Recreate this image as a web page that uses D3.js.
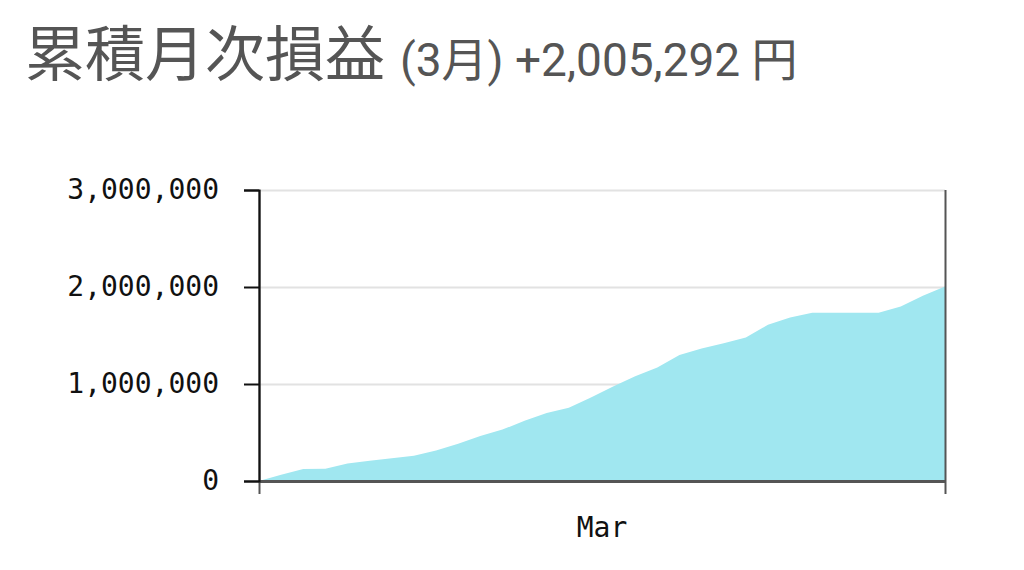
<html>
<script src='https://d3js.org/d3.v7.min.js'></script>
<style>
  body {margin: 0; background: #fff;}
  .title {fill: #555; font-family: Roboto, 'Noto Sans CJK JP', sans-serif;}
  .axis text {font-family: 'DejaVu Sans Mono', monospace; font-size: 28px; fill: #111;}
</style>
<body onload='init()'>
<svg width=1024 height=570></svg>
<script>
// cumulative P&L, one point per day boundary (Mar 1 00:00 .. Apr 1 00:00)
const dates = ['2019-03-01','2019-03-02','2019-03-03','2019-03-04','2019-03-05','2019-03-06',
  '2019-03-07','2019-03-08','2019-03-09','2019-03-10','2019-03-11','2019-03-12','2019-03-13',
  '2019-03-14','2019-03-15','2019-03-16','2019-03-17','2019-03-18','2019-03-19','2019-03-20',
  '2019-03-21','2019-03-22','2019-03-23','2019-03-24','2019-03-25','2019-03-26','2019-03-27',
  '2019-03-28','2019-03-29','2019-03-30','2019-03-31','2019-04-01'];
const profit = [0, 65000, 125000, 127000, 180000, 210000, 235000, 260000, 315000, 385000,
  465000, 530000, 620000, 700000, 755000, 860000, 975000, 1080000, 1170000, 1300000,
  1365000, 1420000, 1480000, 1610000, 1685000, 1735000, 1735000, 1735000, 1735000,
  1800000, 1910000, 2005292];
const yTicks = [0, 1000000, 2000000, 3000000];
const monthLabel = 'Mar';
const titleMain = '累積月次損益';
const titleSub = '(3月) +2,005,292 円';

function init() {
    const parse = d3.timeParse('%Y-%m-%d');
    const data = dates.map((d, i) => ({date: parse(d), value: profit[i]}));

    const margin = {top: 190, left: 259};
    const width = 686, height = 291;
    const svg = d3.select('svg');

    svg.append('text').attr('class', 'title')
      .attr('x', 25).attr('y', 76)
      .call(t => t.append('tspan').attr('font-size', 60).text(titleMain))
      .call(t => t.append('tspan').attr('font-size', 46).attr('dx', 15).text(titleSub));

    const x = d3.scaleTime()
      .domain(d3.extent(data, d => d.date))
      .range([0, width]);
    const y = d3.scaleLinear()
      .domain([0, 3000000])
      .range([height, 0]);

    const g = svg.append('g')
      .attr('transform', 'translate(' + margin.left + ',' + margin.top + ')');

    // horizontal grid
    g.append('g')
      .call(d3.axisLeft(y).tickValues(yTicks).tickSize(-width).tickFormat(''))
      .call(a => a.select('.domain').remove())
      .selectAll('line').attr('stroke', '#e2e2e2').attr('stroke-width', 2);

    g.append('path')
      .datum(data)
      .attr('fill', '#a0e7f0')
      .attr('d', d3.area().x(d => x(d.date)).y0(y(0)).y1(d => y(d.value)));

    // month boundary lines
    const bounds = x.domain();
    g.append('g')
      .attr('transform', 'translate(0,' + height + ')')
      .call(d3.axisBottom(x).tickValues(bounds).tickSizeInner(-height).tickSizeOuter(0).tickFormat(''))
      .call(a => a.select('.domain').remove())
      .selectAll('line').attr('stroke', '#555').attr('stroke-width', 2);

    const xa = g.append('g').attr('class', 'axis')
      .attr('transform', 'translate(0,' + height + ')')
      .call(d3.axisBottom(x).tickValues(bounds).tickSizeInner(13).tickSizeOuter(0).tickFormat(''));
    xa.select('.domain').attr('stroke', '#555').attr('stroke-width', 3);
    xa.selectAll('line').attr('stroke', '#555').attr('stroke-width', 2);

    const mid = new Date((bounds[0].getTime() + bounds[1].getTime()) / 2);
    g.append('text').attr('class', 'axis')
      .attr('x', x(mid)).attr('y', height + 56)
      .attr('text-anchor', 'middle')
      .style('font-family', "'DejaVu Sans Mono', monospace").style('font-size', '28px').style('fill', '#111')
      .text(monthLabel);

    const ya = g.append('g').attr('class', 'axis')
      .call(d3.axisLeft(y).tickValues(yTicks).tickSize(15).tickPadding(25)
        .tickFormat(d3.format(',')));
    ya.select('.domain').attr('stroke', '#111').attr('stroke-width', 2);
    ya.selectAll('line').attr('stroke', '#111').attr('stroke-width', 2);
}
</script>
</body>
</html>
